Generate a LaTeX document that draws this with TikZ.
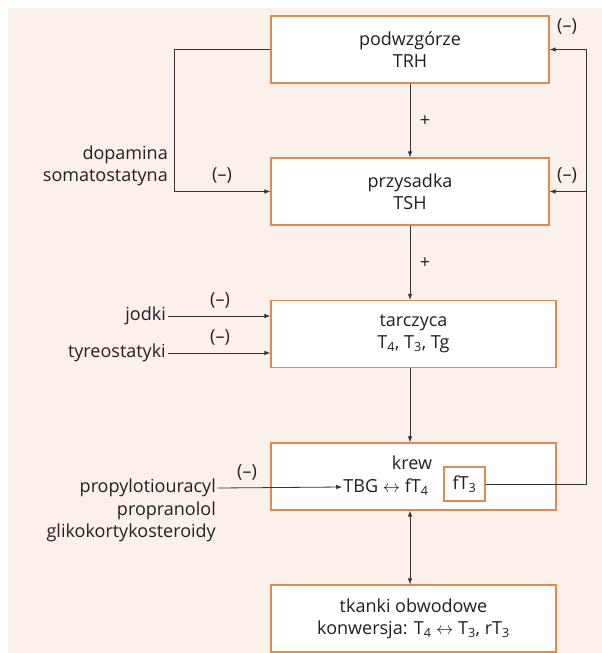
\documentclass[tikz,border=0pt]{standalone}
\usepackage{fontspec}
\setmainfont{Open Sans}
\usetikzlibrary{arrows.meta}
\definecolor{tlo}{HTML}{FBF1EA}
\definecolor{ramka}{HTML}{E08A4E}
\definecolor{linia}{HTML}{333333}
\definecolor{napis}{HTML}{231F20}

\begin{document}
\begin{tikzpicture}[
       x=1pt,y=-1pt,
       font=\fontsize{18}{22}\selectfont,
       text=napis,
       narzad/.style={
         draw=ramka,
         fill=white,
         line width=1.2pt,
         minimum width=285pt,
         minimum height=67pt,
         align=center,
         inner sep=0pt
       },
       opis/.style={inner sep=2pt,align=right},
       strz/.style={draw=linia,line width=0.8pt,-{Latex[length=6pt,width=4.5pt]}}
     ]
\useasboundingbox (0,0) rectangle (602,653);
\fill[tlo] (8,8) rectangle (602,653);

\coordinate (lewy) at (174,0);
\coordinate (prawy) at (586,0);
\coordinate (os) at (410,0);

\node[narzad,minimum width=278pt] (podwz) at (410,49.5) {podwzgórze\\TRH};
\node[narzad,minimum width=278pt] (przys) at (410,191.5) {przysadka\\TSH};
\node[narzad] (tarcz) at (413.5,334) {tarczyca\\T\textsubscript{4}, T\textsubscript{3}, Tg};
\node[narzad] (krew) at (413.5,476.5) {};
\node[narzad] (tkanki) at (413.5,618.5) {tkanki obwodowe\\konwersja: T\textsubscript{4} $\leftrightarrow$ T\textsubscript{3}, rT\textsubscript{3}};

\node[inner sep=0pt] (krewt) at (412,463) {krew};
\node[inner sep=1pt] (tbg) at (386,487) {TBG $\leftrightarrow$ fT\textsubscript{4}};
\node[draw=ramka,line width=1.2pt,minimum width=41pt,minimum height=34pt,inner sep=0pt] (ft3) at (464.5,484) {fT\textsubscript{3}};

\node[opis,anchor=east] (dopa) at (170,166) {dopamina\\somatostatyna};
\node[opis,anchor=east] (jodki) at (168,316) {jodki};
\node[opis,anchor=east] (tyreo) at (168,353) {tyreostatyki};
\node[opis,anchor=east] (propyl) at (218,488) {propylotiouracyl};
\node[opis,anchor=east] (propran) at (218,511) {propranolol};
\node[opis,anchor=east] (gliko) at (218,533) {glikokortykosteroidy};

\node (m1) at (567,26) {(--)};
\node (m2) at (567,175) {(--)};
\node (m3) at (222,175) {(--)};
\node (m4) at (220,300) {(--)};
\node (m5) at (220,337) {(--)};
\node (m6) at (247,472) {(--)};
\node (p1) at (425,121) {+};
\node (p2) at (425,263) {+};

\draw[strz] (podwz.south -| os) -- (przys.north -| os);
\draw[strz] (przys.south -| os) -- (tarcz.north -| os);
\draw[strz] (tarcz.south -| os) -- (krew.north -| os);
\draw[strz,{Latex[length=6pt,width=4.5pt]}-{Latex[length=6pt,width=4.5pt]}] (krew.south -| os) -- (tkanki.north -| os);

\draw[strz] (podwz.west) -- (podwz.west -| lewy) |- (przys.west);
\draw[strz] (ft3.east) -- (ft3.east -| prawy) -- (podwz.east -| prawy) -- (podwz.east);
\draw[strz] (przys.east -| prawy) -- (przys.east);

\draw[strz] (jodki.east) -- (jodki.east -| tarcz.west);
\draw[strz] (tyreo.east) -- (tyreo.east -| tarcz.west);
\draw[strz] (propyl.east) -- (tbg.west);

\end{tikzpicture}
\end{document}
